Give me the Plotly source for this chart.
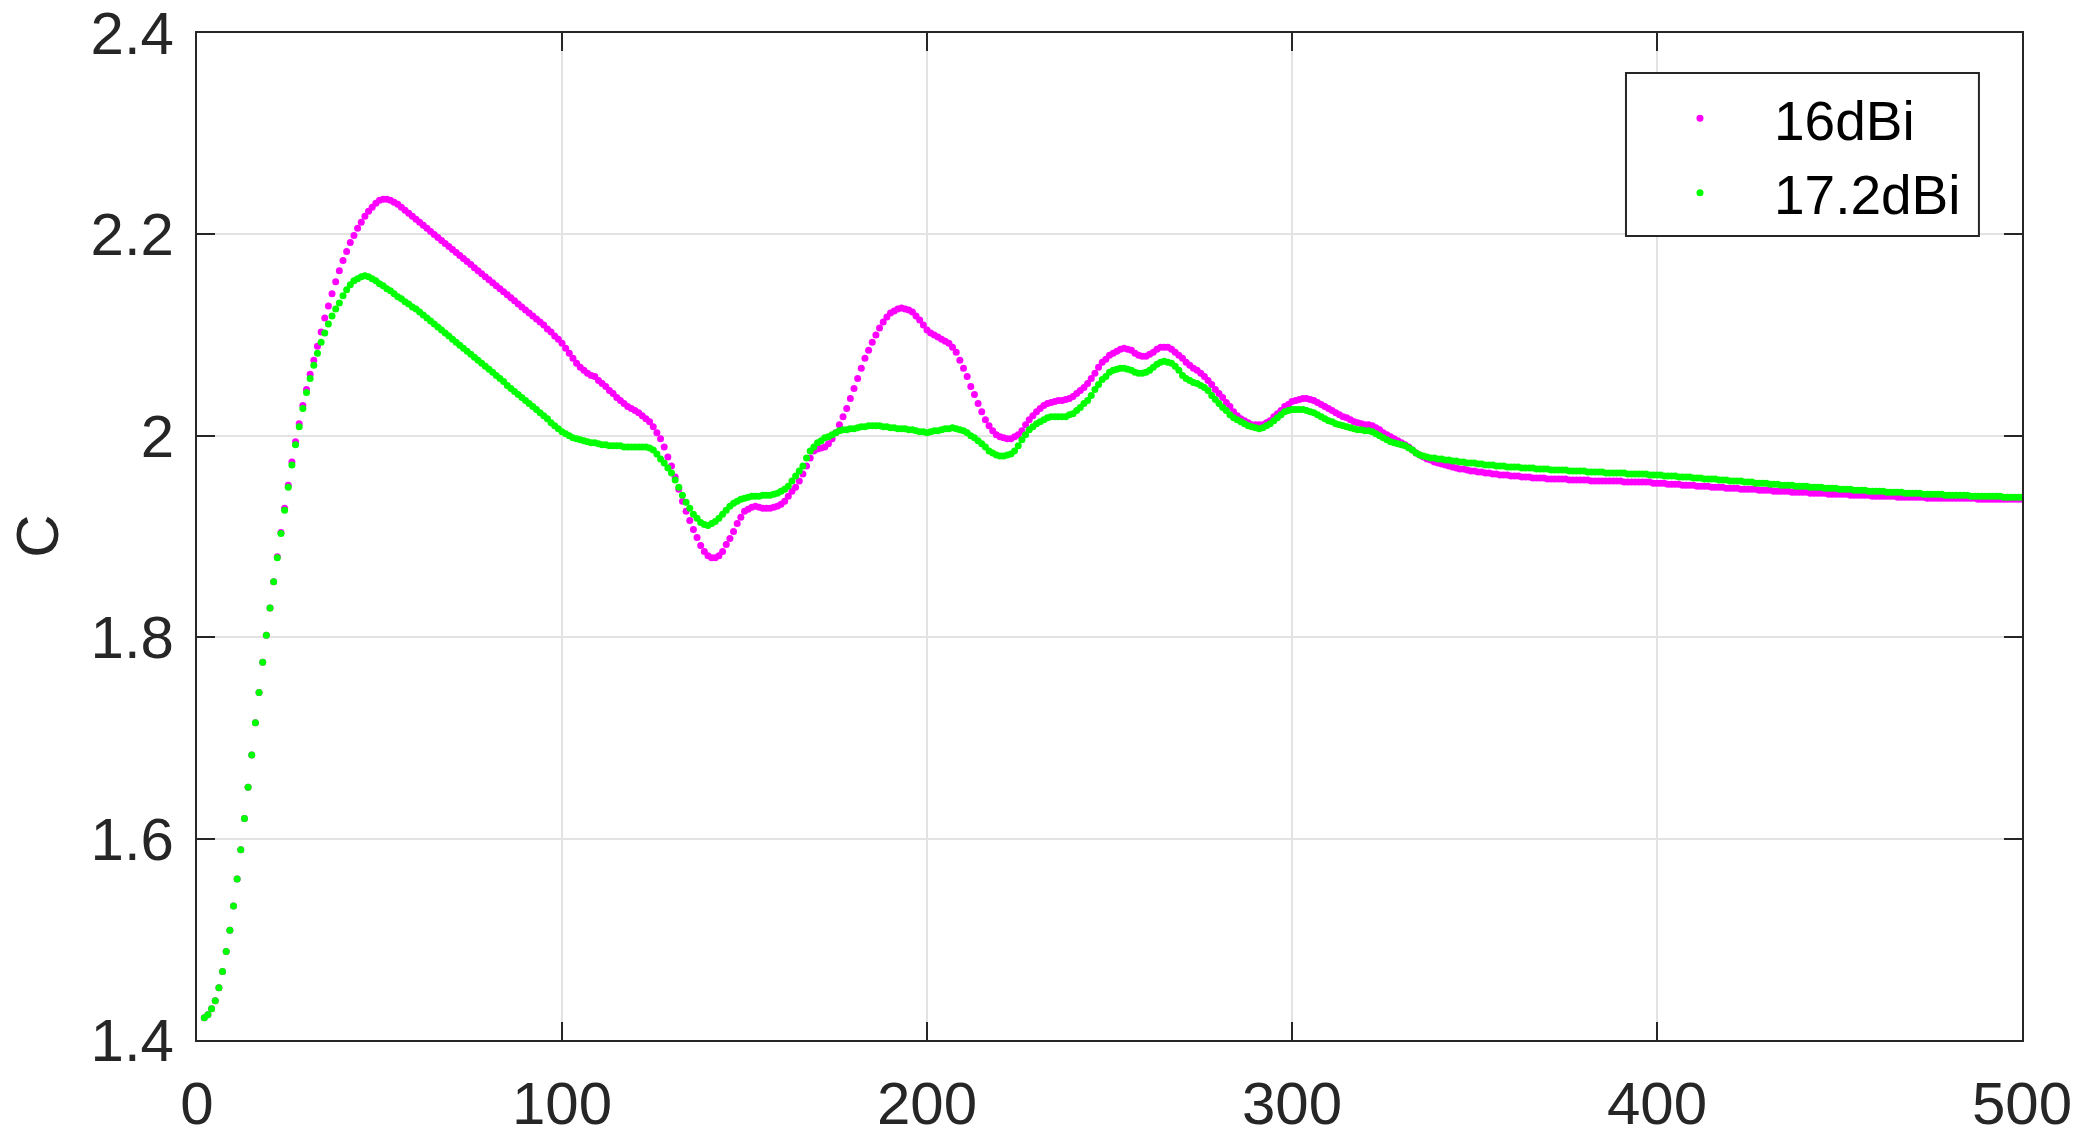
"""C versus sample index for two antenna gains (16 dBi and 17.2 dBi)."""

import plotly.graph_objects as go

# values, one per sample, starting at index 2
C_16DBI = [
    1.422, 1.425, 1.431, 1.439, 1.452, 1.468, 1.488, 1.509, 1.533, 1.560,
    1.589, 1.620, 1.651, 1.683, 1.715, 1.745, 1.775, 1.802, 1.829, 1.855,
    1.880, 1.904, 1.928, 1.951, 1.974, 1.994, 2.012, 2.030, 2.046, 2.061,
    2.075, 2.089, 2.103, 2.117, 2.129, 2.141, 2.153, 2.164, 2.174, 2.183,
    2.192, 2.199, 2.206, 2.212, 2.218, 2.223, 2.227, 2.231, 2.234, 2.235,
    2.235, 2.234, 2.232, 2.230, 2.227, 2.224, 2.221, 2.218, 2.215, 2.212,
    2.209, 2.206, 2.203, 2.200, 2.197, 2.194, 2.191, 2.188, 2.185, 2.182,
    2.179, 2.176, 2.173, 2.170, 2.167, 2.164, 2.161, 2.158, 2.155, 2.152,
    2.149, 2.146, 2.143, 2.140, 2.137, 2.134, 2.131, 2.128, 2.125, 2.122,
    2.119, 2.116, 2.113, 2.110, 2.106, 2.103, 2.099, 2.096, 2.092, 2.087,
    2.082, 2.077, 2.072, 2.068, 2.065, 2.062, 2.060, 2.059, 2.055, 2.052,
    2.049, 2.045, 2.042, 2.038, 2.035, 2.032, 2.029, 2.027, 2.025, 2.023,
    2.020, 2.017, 2.014, 2.009, 2.003, 1.997, 1.989, 1.979, 1.970, 1.959,
    1.947, 1.935, 1.925, 1.916, 1.907, 1.899, 1.891, 1.885, 1.881, 1.879,
    1.879, 1.881, 1.885, 1.892, 1.898, 1.905, 1.913, 1.919, 1.925, 1.927,
    1.929, 1.930, 1.929, 1.928, 1.928, 1.928, 1.929, 1.930, 1.932, 1.935,
    1.940, 1.945, 1.949, 1.955, 1.962, 1.970, 1.978, 1.985, 1.987, 1.988,
    1.989, 1.992, 1.997, 2.003, 2.011, 2.019, 2.027, 2.037, 2.047, 2.057,
    2.067, 2.077, 2.085, 2.093, 2.100, 2.107, 2.113, 2.118, 2.122, 2.124,
    2.126, 2.127, 2.126, 2.125, 2.123, 2.119, 2.115, 2.110, 2.105, 2.102,
    2.100, 2.098, 2.096, 2.094, 2.092, 2.088, 2.083, 2.075, 2.067, 2.059,
    2.049, 2.041, 2.032, 2.024, 2.016, 2.010, 2.005, 2.001, 1.999, 1.998,
    1.997, 1.997, 1.999, 2.001, 2.005, 2.011, 2.016, 2.020, 2.024, 2.027,
    2.030, 2.032, 2.033, 2.034, 2.035, 2.035, 2.036, 2.037, 2.039, 2.042,
    2.045, 2.048, 2.052, 2.057, 2.062, 2.068, 2.073, 2.076, 2.080, 2.082,
    2.084, 2.086, 2.087, 2.086, 2.085, 2.082, 2.080, 2.079, 2.079, 2.081,
    2.083, 2.086, 2.088, 2.088, 2.088, 2.086, 2.083, 2.080, 2.077, 2.073,
    2.070, 2.067, 2.065, 2.062, 2.059, 2.055, 2.051, 2.046, 2.042, 2.038,
    2.033, 2.029, 2.024, 2.020, 2.017, 2.015, 2.013, 2.011, 2.011, 2.011,
    2.011, 2.013, 2.015, 2.019, 2.022, 2.025, 2.029, 2.031, 2.034, 2.035,
    2.036, 2.037, 2.037, 2.036, 2.035, 2.033, 2.031, 2.029, 2.027, 2.025,
    2.023, 2.021, 2.019, 2.018, 2.016, 2.014, 2.013, 2.012, 2.011, 2.011,
    2.010, 2.008, 2.006, 2.003, 2.001, 1.999, 1.997, 1.995, 1.993, 1.991,
    1.989, 1.986, 1.983, 1.981, 1.979, 1.977, 1.976, 1.974, 1.973, 1.972,
    1.971, 1.970, 1.969, 1.968, 1.967, 1.967, 1.966, 1.965, 1.965, 1.964,
    1.964, 1.963, 1.963, 1.962, 1.962, 1.961, 1.961, 1.961, 1.960, 1.960,
    1.960, 1.959, 1.959, 1.959, 1.958, 1.958, 1.958, 1.958, 1.957, 1.957,
    1.957, 1.957, 1.957, 1.957, 1.956, 1.956, 1.956, 1.956, 1.956, 1.956,
    1.955, 1.955, 1.955, 1.955, 1.955, 1.955, 1.955, 1.955, 1.955, 1.954,
    1.954, 1.954, 1.954, 1.954, 1.954, 1.954, 1.954, 1.953, 1.953, 1.953,
    1.953, 1.952, 1.952, 1.952, 1.952, 1.951, 1.951, 1.951, 1.951, 1.950,
    1.950, 1.950, 1.950, 1.949, 1.949, 1.949, 1.949, 1.948, 1.948, 1.948,
    1.948, 1.947, 1.947, 1.947, 1.947, 1.947, 1.946, 1.946, 1.946, 1.946,
    1.945, 1.945, 1.945, 1.945, 1.945, 1.944, 1.944, 1.944, 1.944, 1.944,
    1.943, 1.943, 1.943, 1.943, 1.943, 1.942, 1.942, 1.942, 1.942, 1.942,
    1.942, 1.941, 1.941, 1.941, 1.941, 1.941, 1.941, 1.940, 1.940, 1.940,
    1.940, 1.940, 1.940, 1.940, 1.939, 1.939, 1.939, 1.939, 1.939, 1.939,
    1.939, 1.939, 1.938, 1.938, 1.938, 1.938, 1.938, 1.938, 1.938, 1.938,
    1.938, 1.938, 1.938, 1.938, 1.938, 1.938, 1.937, 1.937, 1.937, 1.937,
    1.937, 1.937, 1.937, 1.937, 1.937, 1.937, 1.937, 1.937, 1.937,
]

C_17DBI = [
    1.422, 1.425, 1.431, 1.439, 1.452, 1.468, 1.488, 1.509, 1.533, 1.560,
    1.589, 1.620, 1.651, 1.683, 1.715, 1.745, 1.775, 1.802, 1.829, 1.855,
    1.879, 1.903, 1.926, 1.949, 1.971, 1.991, 2.009, 2.027, 2.043, 2.057,
    2.070, 2.082, 2.093, 2.102, 2.111, 2.119, 2.126, 2.132, 2.139, 2.145,
    2.150, 2.154, 2.156, 2.158, 2.159, 2.158, 2.156, 2.154, 2.151, 2.149,
    2.146, 2.144, 2.141, 2.138, 2.136, 2.133, 2.131, 2.128, 2.126, 2.123,
    2.120, 2.117, 2.114, 2.111, 2.108, 2.105, 2.102, 2.099, 2.096, 2.093,
    2.090, 2.087, 2.084, 2.081, 2.078, 2.075, 2.072, 2.069, 2.066, 2.063,
    2.060, 2.057, 2.054, 2.050, 2.047, 2.044, 2.041, 2.038, 2.035, 2.032,
    2.029, 2.026, 2.023, 2.020, 2.017, 2.013, 2.010, 2.007, 2.004, 2.002,
    2.000, 1.998, 1.997, 1.996, 1.995, 1.994, 1.993, 1.993, 1.992, 1.991,
    1.991, 1.990, 1.990, 1.990, 1.990, 1.989, 1.989, 1.989, 1.989, 1.989,
    1.989, 1.989, 1.988, 1.986, 1.982, 1.977, 1.973, 1.968, 1.963, 1.956,
    1.949, 1.941, 1.934, 1.928, 1.922, 1.918, 1.914, 1.912, 1.911, 1.913,
    1.915, 1.918, 1.922, 1.926, 1.930, 1.933, 1.935, 1.937, 1.938, 1.939,
    1.940, 1.940, 1.940, 1.941, 1.941, 1.941, 1.942, 1.943, 1.945, 1.947,
    1.950, 1.955, 1.960, 1.965, 1.970, 1.978, 1.985, 1.989, 1.993, 1.995,
    1.998, 1.999, 2.001, 2.003, 2.005, 2.006, 2.006, 2.007, 2.007, 2.008,
    2.009, 2.009, 2.010, 2.010, 2.010, 2.010, 2.009, 2.009, 2.008, 2.008,
    2.007, 2.007, 2.007, 2.006, 2.006, 2.005, 2.004, 2.004, 2.003, 2.004,
    2.005, 2.005, 2.006, 2.007, 2.007, 2.008, 2.007, 2.006, 2.005, 2.003,
    2.000, 1.998, 1.995, 1.992, 1.989, 1.985, 1.983, 1.981, 1.980, 1.980,
    1.981, 1.982, 1.985, 1.990, 1.996, 2.001, 2.006, 2.009, 2.012, 2.014,
    2.016, 2.018, 2.019, 2.019, 2.019, 2.019, 2.019, 2.021, 2.022, 2.025,
    2.028, 2.032, 2.035, 2.040, 2.046, 2.051, 2.056, 2.059, 2.063, 2.065,
    2.066, 2.067, 2.067, 2.066, 2.065, 2.063, 2.062, 2.062, 2.063, 2.065,
    2.068, 2.071, 2.073, 2.074, 2.073, 2.072, 2.069, 2.065, 2.060, 2.057,
    2.055, 2.053, 2.052, 2.050, 2.048, 2.045, 2.040, 2.036, 2.032, 2.028,
    2.025, 2.021, 2.018, 2.016, 2.014, 2.012, 2.010, 2.009, 2.008, 2.007,
    2.008, 2.010, 2.012, 2.015, 2.018, 2.021, 2.024, 2.025, 2.026, 2.026,
    2.026, 2.026, 2.025, 2.024, 2.023, 2.021, 2.019, 2.017, 2.015, 2.014,
    2.012, 2.011, 2.010, 2.009, 2.008, 2.007, 2.006, 2.006, 2.005, 2.005,
    2.004, 2.002, 2.000, 1.998, 1.996, 1.994, 1.993, 1.992, 1.991, 1.990,
    1.988, 1.986, 1.983, 1.981, 1.980, 1.979, 1.978, 1.978, 1.977, 1.977,
    1.976, 1.976, 1.975, 1.975, 1.974, 1.974, 1.973, 1.973, 1.973, 1.972,
    1.972, 1.971, 1.971, 1.971, 1.970, 1.970, 1.970, 1.969, 1.969, 1.969,
    1.969, 1.968, 1.968, 1.968, 1.968, 1.967, 1.967, 1.967, 1.967, 1.966,
    1.966, 1.966, 1.966, 1.966, 1.965, 1.965, 1.965, 1.965, 1.965, 1.964,
    1.964, 1.964, 1.964, 1.964, 1.963, 1.963, 1.963, 1.963, 1.963, 1.963,
    1.962, 1.962, 1.962, 1.962, 1.962, 1.962, 1.961, 1.961, 1.961, 1.961,
    1.960, 1.960, 1.960, 1.960, 1.959, 1.959, 1.959, 1.959, 1.958, 1.958,
    1.958, 1.957, 1.957, 1.957, 1.957, 1.956, 1.956, 1.956, 1.955, 1.955,
    1.955, 1.955, 1.954, 1.954, 1.954, 1.953, 1.953, 1.953, 1.953, 1.952,
    1.952, 1.952, 1.951, 1.951, 1.951, 1.951, 1.950, 1.950, 1.950, 1.950,
    1.949, 1.949, 1.949, 1.949, 1.948, 1.948, 1.948, 1.948, 1.947, 1.947,
    1.947, 1.947, 1.946, 1.946, 1.946, 1.946, 1.945, 1.945, 1.945, 1.945,
    1.945, 1.944, 1.944, 1.944, 1.944, 1.944, 1.943, 1.943, 1.943, 1.943,
    1.943, 1.942, 1.942, 1.942, 1.942, 1.942, 1.942, 1.941, 1.941, 1.941,
    1.941, 1.941, 1.941, 1.941, 1.940, 1.940, 1.940, 1.940, 1.940, 1.940,
    1.940, 1.940, 1.940, 1.939, 1.939, 1.939, 1.939, 1.939, 1.939,
]

FIRST_INDEX = 2
X_TICKS = [0, 100, 200, 300, 400, 500]
Y_TICKS = [1.4, 1.6, 1.8, 2.0, 2.2, 2.4]

AXIS_COLOR = "#262626"
GRID_COLOR = "#e3e3e3"
FONT = "Liberation Sans, Arial, Helvetica, sans-serif"

# legend box in paper coordinates (MATLAB-style "northeast" legend)
LEGEND_X0, LEGEND_X1 = 0.783, 0.9764
LEGEND_Y0, LEGEND_Y1 = 0.7984, 0.9603


def sample_index(values):
    return list(range(FIRST_INDEX, FIRST_INDEX + len(values)))


fig = go.Figure()
fig.add_trace(
    go.Scatter(
        x=sample_index(C_16DBI),
        y=C_16DBI,
        mode="markers",
        name="16dBi",
        marker=dict(color="#ff00ff", size=7, line=dict(width=0)),
    )
)
fig.add_trace(
    go.Scatter(
        x=sample_index(C_17DBI),
        y=C_17DBI,
        mode="markers",
        name="17.2dBi",
        marker=dict(color="#00ff00", size=7, line=dict(width=0)),
    )
)

axis_common = dict(
    showline=True,
    linecolor=AXIS_COLOR,
    linewidth=2,
    mirror="ticks",
    ticks="inside",
    ticklen=18,
    tickwidth=2,
    tickcolor=AXIS_COLOR,
    showgrid=True,
    gridcolor=GRID_COLOR,
    gridwidth=1.5,
    zeroline=False,
    automargin=False,
    ticklabeloverflow="allow",
    tickfont=dict(family=FONT, size=60, color=AXIS_COLOR),
)

fig.update_xaxes(
    range=[0, 500],
    tickvals=X_TICKS,
    ticklabelstandoff=10,
    **axis_common,
)
fig.update_yaxes(
    range=[1.4, 2.4],
    tickvals=Y_TICKS,
    ticktext=[f"{v:g}" for v in Y_TICKS],
    ticklabelstandoff=9,
    **axis_common,
)

# y label, rotated like the MATLAB original
fig.add_annotation(
    text="C",
    xref="paper",
    yref="paper",
    x=-0.0875,
    y=0.5,
    xanchor="center",
    yanchor="middle",
    textangle=-90,
    showarrow=False,
    font=dict(family=FONT, size=60, color=AXIS_COLOR),
)

# legend frame drawn as a shape so its size can be set exactly
fig.add_shape(
    type="rect",
    xref="paper",
    yref="paper",
    x0=LEGEND_X0,
    x1=LEGEND_X1,
    y0=LEGEND_Y0,
    y1=LEGEND_Y1,
    line=dict(color=AXIS_COLOR, width=2),
    fillcolor="white",
    layer="above",
)

# the page body keeps an 8px margin, so the figure is 16px smaller than the window
fig.update_layout(
    width=2065,
    height=1122,
    margin=dict(l=189, r=51, t=25, b=90, autoexpand=False),
    paper_bgcolor="white",
    plot_bgcolor="white",
    showlegend=True,
    legend=dict(
        x=LEGEND_X0,
        y=0.9573,
        xanchor="left",
        yanchor="top",
        bgcolor="rgba(0,0,0,0)",
        borderwidth=0,
        itemwidth=138,
        font=dict(family=FONT, size=55, color="black"),
        tracegroupgap=0,
    ),
)

fig.write_html("out.html")
